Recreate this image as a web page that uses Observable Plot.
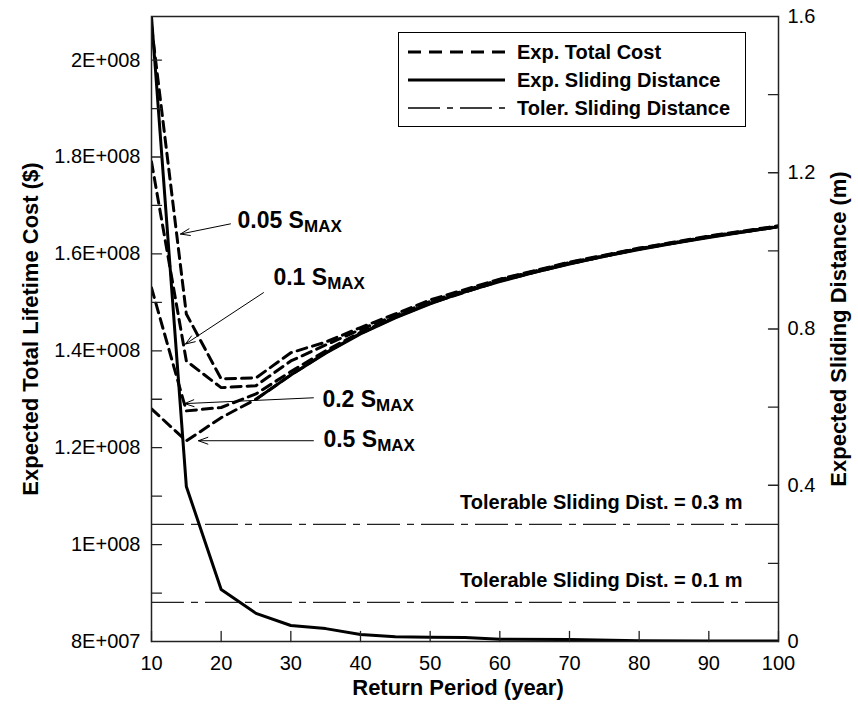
<!DOCTYPE html>
<html>
<head>
<meta charset="utf-8">
<script src="https://cdn.jsdelivr.net/npm/d3@7"></script>
<script src="https://cdn.jsdelivr.net/npm/@observablehq/plot@0.6"></script>
<style>
  body { margin: 0; background: #fff; font-family: "Liberation Sans", Arial, sans-serif; }
  #wrap { position: relative; width: 858px; height: 704px; }
  #legend { position: absolute; left: 398px; top: 32px; width: 346px; height: 93px;
            border: 1.5px solid #000; background: #fff; }
  #legend .row { position: absolute; left: 0; height: 28px; display: flex; align-items: center; }
  #legend .row svg { margin-left: 9px; }
  #legend .row span { margin-left: 12px; font-weight: bold; font-size: 20px; color: #000; white-space: nowrap; }
</style>
</head>
<body>
<div id="wrap"></div>
<script>
// ---------------- data ----------------
const returnPeriods = [10, 15, 20, 25, 30, 35, 40, 45, 50, 60, 70, 80, 90, 100];
const cost005 = [2.07e8, 1.476e8, 1.342e8, 1.344e8, 1.396e8, 1.418e8, 1.448e8, 1.476e8, 1.505e8, 1.548e8, 1.583e8, 1.612e8, 1.637e8, 1.658e8];
const cost01  = [1.79e8, 1.379e8, 1.324e8, 1.328e8, 1.379e8, 1.412e8, 1.444e8, 1.473e8, 1.502e8, 1.547e8, 1.582e8, 1.611e8, 1.636e8, 1.657e8];
const cost02  = [1.53e8, 1.276e8, 1.283e8, 1.311e8, 1.357e8, 1.400e8, 1.438e8, 1.470e8, 1.499e8, 1.545e8, 1.580e8, 1.610e8, 1.635e8, 1.656e8];
const cost05  = [1.28e8, 1.214e8, 1.262e8, 1.300e8, 1.350e8, 1.396e8, 1.436e8, 1.469e8, 1.498e8, 1.544e8, 1.580e8, 1.610e8, 1.635e8, 1.656e8];
const costCases = ["0.05 S_MAX", "0.1 S_MAX", "0.2 S_MAX", "0.5 S_MAX"];

const baseYears = [25, 30, 35, 40, 45, 50, 55, 60, 65, 70, 75, 80, 85, 90, 95, 100];
const baseCost  = [1.300e8, 1.350e8, 1.395e8, 1.435e8, 1.468e8, 1.497e8, 1.522e8, 1.543e8, 1.562e8, 1.579e8, 1.595e8, 1.609e8, 1.622e8, 1.634e8, 1.645e8, 1.656e8];

const slideYears = [10, 15, 20, 25, 30, 35, 40, 45, 50, 55, 60, 70, 80, 90, 100];
const slideDist  = [1.60, 0.397, 0.133, 0.072, 0.041, 0.033, 0.018, 0.012, 0.011, 0.010, 0.006, 0.005, 0.002, 0.001, 0.001];

const tolerableDist = [0.3, 0.1];

const xTicks = [10, 20, 30, 40, 50, 60, 70, 80, 90, 100];
const xTickLabels = ["10", "20", "30", "40", "50", "60", "70", "80", "90", "100"];
const leftTicks = [8e7, 1e8, 1.2e8, 1.4e8, 1.6e8, 1.8e8, 2e8];
const leftTickLabels = ["8E+007", "1E+008", "1.2E+008", "1.4E+008", "1.6E+008", "1.8E+008", "2E+008"];
const leftMinorTicks = [9e7, 1e8, 1.1e8, 1.2e8, 1.3e8, 1.4e8, 1.5e8, 1.6e8, 1.7e8, 1.8e8, 1.9e8, 2e8];
const rightTicks = [0, 0.4, 0.8, 1.2, 1.6];
const rightTickLabels = ["0", "0.4", "0.8", "1.2", "1.6"];
const rightMinorTicks = [0.2, 0.4, 0.6, 0.8, 1.0, 1.2, 1.4];

// annotation arrows (text anchor and arrow from/to, in data units)
const annotations = [
  {label: "0.05 S_MAX", tx: 22.34, ty: 1.668e8, x1: 21.33, y1: 1.662e8, x2: 14.16, y2: 1.641e8},
  {label: "0.1 S_MAX",  tx: 27.5,  ty: 1.552e8, x1: 26.07, y1: 1.520e8, x2: 14.88, y2: 1.414e8},
  {label: "0.2 S_MAX",  tx: 34.53, ty: 1.300e8, x1: 33.24, y1: 1.303e8, x2: 14.74, y2: 1.291e8},
  {label: "0.5 S_MAX",  tx: 34.68, ty: 1.2175e8, x1: 33.24, y1: 1.2144e8, x2: 16.74, y2: 1.2144e8}
];

const xTitle = "Return Period (year)";
const yLeftTitle = "Expected Total Lifetime Cost ($)";
const yRightTitle = "Expected Sliding Distance (m)";
const legendItems = ["Exp. Total Cost", "Exp. Sliding Distance", "Toler. Sliding Distance"];

// ---------------- scales ----------------
const yMin = 8e7, yMax = 2.09e8, distMax = 1.6;
const toLeft = d => yMin + d / distMax * (yMax - yMin);

const costSeries = [cost005, cost01, cost02, cost05];
const costRows = [];
costSeries.forEach((arr, k) => arr.forEach((v, i) => costRows.push({year: returnPeriods[i], cost: v, case: costCases[k]})));
const baseRows = baseYears.map((y, i) => ({year: y, cost: baseCost[i]}));
const slideRows = slideYears.map((y, i) => ({year: y, dist: slideDist[i]}));

const tickShape = {draw(context, l) { context.moveTo(0, 0); context.lineTo(0, -l); }};
const tickStyle = {stroke: "#222", strokeWidth: 1.3, length: 10, anchor: "start", shape: tickShape};
const labelStyle = {fontSize: 20, fill: "#000"};
const titleStyle = {fontSize: 22, fontWeight: "bold", fill: "#000", textAnchor: "middle", lineAnchor: "middle"};

const chart = Plot.plot({
  width: 858,
  height: 704,
  marginLeft: 151,
  marginRight: 80,
  marginTop: 16,
  marginBottom: 63,
  x: {domain: [10, 100], axis: null},
  y: {domain: [yMin, yMax], axis: null},
  style: {background: "#fff", color: "#000", fontFamily: "'Liberation Sans', Arial, sans-serif", fontSize: "20px", overflow: "visible"},
  marks: [
    Plot.ruleY(tolerableDist, {y: d => toLeft(d), stroke: "#222", strokeWidth: 1.3, strokeDasharray: "33,7,7,7"}),
    Plot.text(tolerableDist, {y: d => toLeft(d), frameAnchor: "right", text: d => `Tolerable Sliding Dist. = ${d} m`,
      textAnchor: "end", dx: -36, dy: -21.5, fontSize: 20, fontWeight: "bold", fill: "#000"}),
    Plot.line(baseRows, {x: "year", y: "cost", stroke: "#000", strokeWidth: 3, clip: true}),
    Plot.line(costRows, {x: "year", y: "cost", z: "case", stroke: "#000", strokeWidth: 3, strokeDasharray: "10,6", clip: true}),
    Plot.line(slideRows, {x: "year", y: d => toLeft(d.dist), stroke: "#000", strokeWidth: 3, clip: true}),
    Plot.arrow(annotations, {x1: "x1", y1: "y1", x2: "x2", y2: "y2", stroke: "#000", strokeWidth: 1, headLength: 15, headAngle: 40}),
    Plot.text(annotations, {x: "tx", y: "ty", text: "label", textAnchor: "start", fontSize: 23, fontWeight: "bold", fill: "#000"}),
    // inward ticks
    Plot.vector(leftMinorTicks, {y: d => d, frameAnchor: "left", rotate: 90, ...tickStyle}),
    Plot.vector(rightMinorTicks, {y: d => toLeft(d), frameAnchor: "right", rotate: -90, ...tickStyle}),
    Plot.vector(xTicks, {x: d => d, frameAnchor: "bottom", rotate: 0, ...tickStyle}),
    Plot.frame({stroke: "#222", strokeWidth: 1.5}),
    // tick labels
    Plot.text(xTicks, {x: d => d, frameAnchor: "bottom", text: (d, i) => xTickLabels[i], textAnchor: "middle", lineAnchor: "middle", dy: 22, ...labelStyle}),
    Plot.text(leftTicks, {y: d => d, frameAnchor: "left", text: (d, i) => leftTickLabels[i], textAnchor: "end", lineAnchor: "middle", dx: -11, ...labelStyle}),
    Plot.text(rightTicks, {y: d => toLeft(d), frameAnchor: "right", text: (d, i) => rightTickLabels[i], textAnchor: "start", lineAnchor: "middle", dx: 9, ...labelStyle}),
    // axis titles
    Plot.text([xTitle], {frameAnchor: "bottom", text: d => d, dx: -7, dy: 46, ...titleStyle}),
    Plot.text([yLeftTitle], {frameAnchor: "left", text: d => d, rotate: -90, dx: -121, dy: 0, ...titleStyle}),
    Plot.text([yRightTitle], {frameAnchor: "right", text: d => d, rotate: -90, dx: 60, dy: 0, ...titleStyle})
  ]
});

// subscript "MAX"
d3.select(chart).selectAll("text").each(function () {
  const t = this.textContent;
  const m = /^(.*) S_MAX$/.exec(t);
  if (m) {
    const sel = d3.select(this);
    sel.text(m[1] + " S");
    sel.append("tspan").attr("font-size", 17).attr("dy", 4).text("MAX");
  }
});

const wrap = document.getElementById("wrap");
wrap.appendChild(chart);

// legend (inside the plot area, top right)
const legend = document.createElement("div");
legend.id = "legend";
const styles = [
  {dash: "13,8", width: 3},
  {dash: null, width: 3},
  {dash: "32,7,6,7", width: 1.3}
];
legendItems.forEach((label, i) => {
  const row = document.createElement("div");
  row.className = "row";
  row.style.top = (5 + i * 28) + "px";
  row.innerHTML = `<svg width="97" height="10"><line x1="0" x2="97" y1="5" y2="5" stroke="#000" stroke-width="${styles[i].width}" ${styles[i].dash ? `stroke-dasharray="${styles[i].dash}"` : ""}/></svg><span>${label}</span>`;
  legend.appendChild(row);
});
wrap.appendChild(legend);
</script>
</body>
</html>
